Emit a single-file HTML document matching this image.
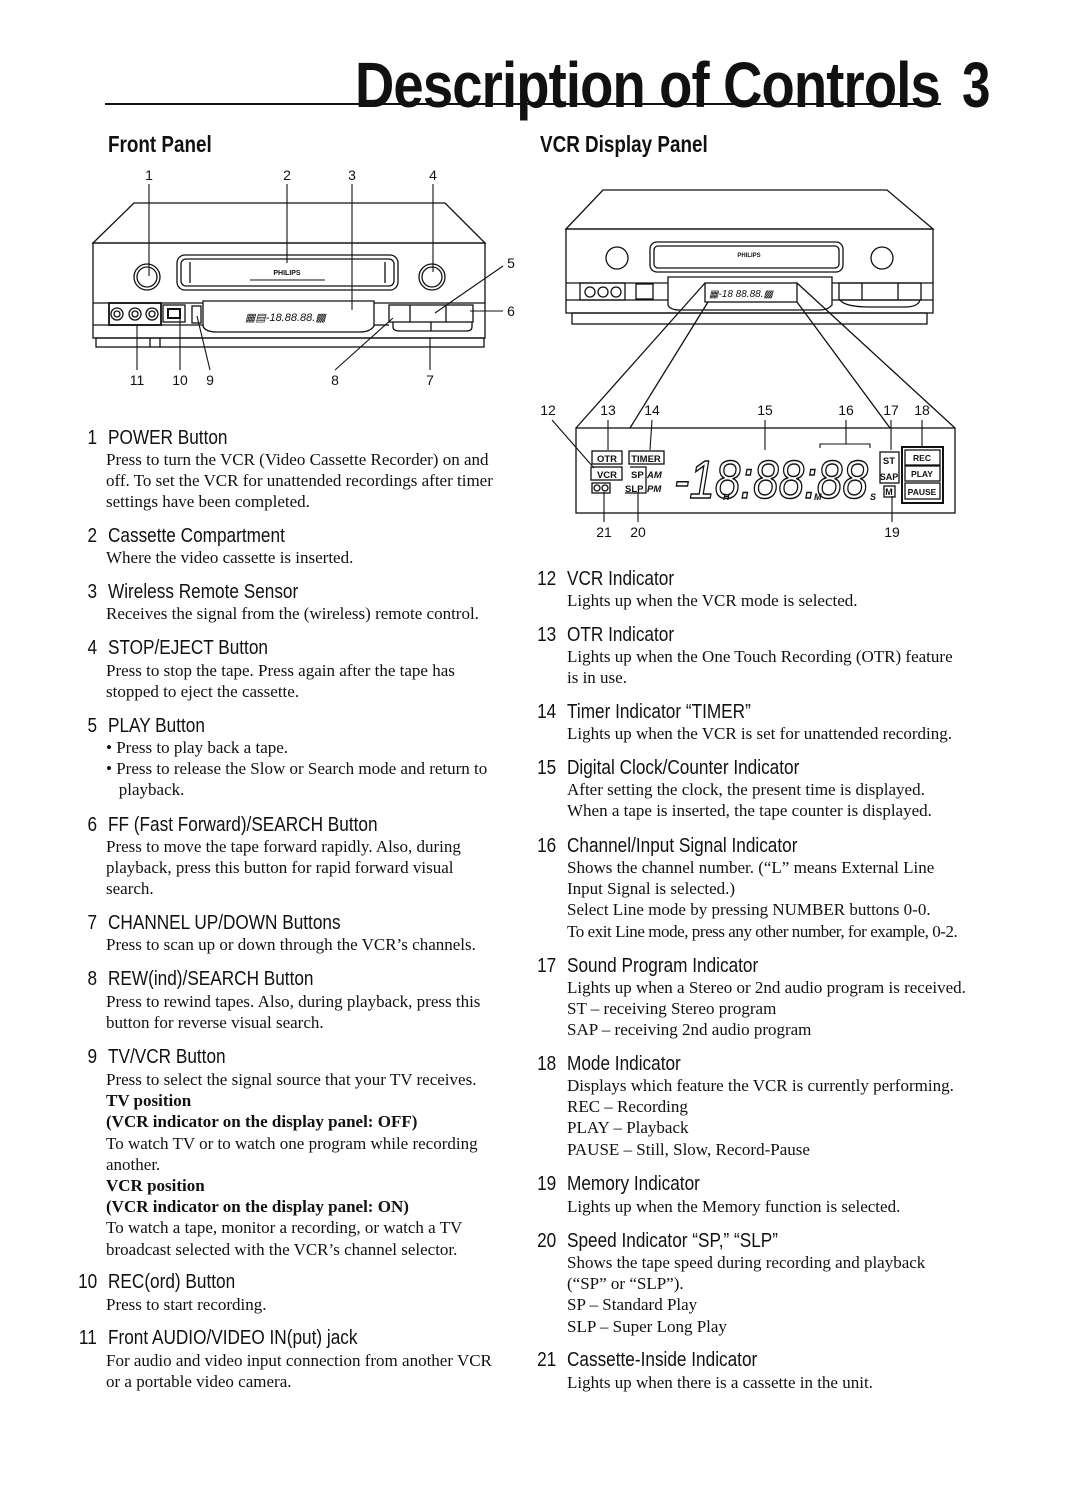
<!DOCTYPE html>
<html><head><meta charset="utf-8">
<style>
body{margin:0;background:#fff;}
#pg{position:relative;width:1080px;height:1509px;overflow:hidden;background:#fff;color:#111;}
.h{position:absolute;font-family:"Liberation Sans",sans-serif;font-size:20px;white-space:nowrap;transform:scaleX(0.86);transform-origin:0 0;line-height:22px;}
.n{position:absolute;font-family:"Liberation Sans",sans-serif;font-size:20px;white-space:nowrap;transform:scaleX(0.86);transform-origin:100% 0;text-align:right;line-height:22px;}
.b{position:absolute;font-family:"Liberation Serif",serif;font-size:17px;line-height:21.2px;white-space:nowrap;}
.b b{font-weight:bold;}
svg text{font-family:"Liberation Sans",sans-serif;}
</style></head><body><div id="pg">

<div style="position:absolute;left:355px;top:50px;font-family:'Liberation Sans',sans-serif;font-weight:bold;font-size:64px;line-height:70px;white-space:nowrap;transform:scaleX(0.85);transform-origin:0 0;letter-spacing:-1px">Description of Controls</div>
<div style="position:absolute;left:962px;top:50px;font-family:'Liberation Sans',sans-serif;font-weight:bold;font-size:64px;line-height:70px;transform:scaleX(0.8);transform-origin:0 0">3</div>
<div style="position:absolute;left:105px;top:103px;width:836px;height:2px;background:#111"></div>

<div style="position:absolute;left:108px;top:131px;font-family:'Liberation Sans',sans-serif;font-weight:bold;font-size:23px;white-space:nowrap;transform:scaleX(0.82);transform-origin:0 0">Front Panel</div>
<div style="position:absolute;left:540px;top:131px;font-family:'Liberation Sans',sans-serif;font-weight:bold;font-size:23px;white-space:nowrap;transform:scaleX(0.82);transform-origin:0 0">VCR Display Panel</div>

<svg style="position:absolute;left:0;top:0" width="1080" height="560" viewBox="0 0 1080 560" fill="none" stroke="#111" stroke-width="1.3">
<path d="M93 243 L134 203 L445 203 L485 243 Z"/>
<rect x="93" y="243" width="392" height="95"/>
<rect x="96" y="338" width="388" height="9"/>
<circle cx="147" cy="277" r="13"/><circle cx="147" cy="277" r="10"/>
<rect x="177" y="255" width="221" height="35" rx="8"/>
<rect x="181" y="259" width="213" height="27" rx="5"/>
<line x1="190" y1="262" x2="190" y2="283"/><line x1="385" y1="262" x2="385" y2="283"/>
<text x="287" y="275" font-size="7" font-weight="bold" fill="#111" stroke="none" text-anchor="middle">PHILIPS</text>
<line x1="250" y1="280" x2="325" y2="280" stroke-width="1"/>
<circle cx="432" cy="277" r="13"/><circle cx="432" cy="277" r="10"/>
<line x1="93" y1="303" x2="203" y2="303"/><line x1="374" y1="303" x2="485" y2="303"/>
<line x1="93" y1="325" x2="203" y2="325"/><line x1="374" y1="325" x2="389" y2="325"/>
<rect x="109" y="303" width="52" height="22" stroke-width="1.8"/>
<circle cx="117" cy="314" r="6"/><circle cx="135" cy="314" r="6"/><circle cx="152" cy="314" r="6"/>
<circle cx="117" cy="314" r="3"/><circle cx="135" cy="314" r="3"/><circle cx="152" cy="314" r="3"/>
<rect x="163" y="305" width="22" height="17"/><rect x="168" y="309" width="12" height="9" stroke-width="2"/>
<rect x="192" y="306" width="9" height="17"/>
<path d="M203 301 L374 301 L374 326 Q370 332 360 332 L217 332 Q205 332 203 326 Z"/>
<text x="245" y="321" font-size="11" font-style="italic" fill="#111" stroke="none">▦▤-18.88.88.▩</text>
<rect x="389" y="305" width="84" height="17"/>
<line x1="410" y1="305" x2="410" y2="322"/><line x1="446" y1="305" x2="446" y2="322"/>
<path d="M393 322 L393 327 Q393 331 400 331 L466 331 Q472 331 472 327 L472 322"/>
<line x1="431" y1="322" x2="431" y2="331"/>
<line x1="150" y1="338" x2="150" y2="347"/><line x1="160" y1="338" x2="160" y2="347"/>
<g fill="#111" stroke="none" font-size="14">
<text x="149" y="180" text-anchor="middle">1</text><text x="287" y="180" text-anchor="middle">2</text>
<text x="352" y="180" text-anchor="middle">3</text><text x="433" y="180" text-anchor="middle">4</text>
<text x="511" y="268" text-anchor="middle">5</text><text x="511" y="316" text-anchor="middle">6</text>
<text x="430" y="385" text-anchor="middle">7</text><text x="335" y="385" text-anchor="middle">8</text>
<text x="210" y="385" text-anchor="middle">9</text><text x="180" y="385" text-anchor="middle">10</text>
<text x="137" y="385" text-anchor="middle">11</text>
</g>
<g stroke-width="1.1">
<line x1="149" y1="184" x2="149" y2="276"/><line x1="287" y1="184" x2="287" y2="263"/>
<line x1="352" y1="184" x2="352" y2="310"/><line x1="433" y1="184" x2="433" y2="272"/>
<line x1="503" y1="266" x2="435" y2="313"/><line x1="503" y1="311" x2="470" y2="311"/>
<line x1="430" y1="370" x2="430" y2="338"/><line x1="335" y1="370" x2="393" y2="318"/>
<line x1="210" y1="370" x2="197" y2="316"/><line x1="180" y1="370" x2="180" y2="318"/>
<line x1="137" y1="370" x2="137" y2="325"/>
</g>

<path d="M566 229 L603 190 L887 190 L933 229 Z"/>
<rect x="566" y="229" width="367" height="84"/>
<rect x="572" y="313" width="355" height="11"/>
<circle cx="617" cy="258" r="11"/>
<rect x="650" y="242" width="193" height="30" rx="7"/>
<rect x="654" y="246" width="185" height="22" rx="4"/>
<text x="749" y="257" font-size="6" font-weight="bold" fill="#111" stroke="none" text-anchor="middle">PHILIPS</text>
<circle cx="882" cy="258" r="11"/>
<line x1="566" y1="283" x2="668" y2="283"/><line x1="832" y1="283" x2="933" y2="283"/>
<line x1="566" y1="300" x2="668" y2="300"/><line x1="832" y1="300" x2="933" y2="300"/>
<rect x="580" y="283" width="45" height="17"/>
<circle cx="590" cy="292" r="5"/><circle cx="603" cy="292" r="5"/><circle cx="616" cy="292" r="5"/>
<rect x="636" y="284" width="17" height="15"/>
<path d="M668 277 L832 277 L832 305 Q828 310 820 310 L680 310 Q670 310 668 305 Z"/>
<rect x="705" y="283" width="92" height="19"/>
<text x="709" y="297" font-size="10" font-style="italic" fill="#111" stroke="none">▦-18 88.88.▩</text>
<rect x="839" y="283" width="82" height="17"/><line x1="862" y1="283" x2="862" y2="300"/><line x1="898" y1="283" x2="898" y2="300"/>
<path d="M840 300 Q845 307 870 307 L905 307 Q918 307 920 300"/>
<line x1="705" y1="283" x2="576" y2="428"/><line x1="708" y1="302" x2="630" y2="428"/>
<line x1="797" y1="283" x2="955" y2="428"/><line x1="797" y1="302" x2="890" y2="428"/>
<rect x="576" y="428" width="379" height="85"/>
<g fill="#111" stroke="none" font-size="14">
<text x="548" y="415" text-anchor="middle">12</text><text x="608" y="415" text-anchor="middle">13</text>
<text x="652" y="415" text-anchor="middle">14</text><text x="765" y="415" text-anchor="middle">15</text>
<text x="846" y="415" text-anchor="middle">16</text><text x="891" y="415" text-anchor="middle">17</text>
<text x="922" y="415" text-anchor="middle">18</text>
<text x="604" y="537" text-anchor="middle">21</text><text x="638" y="537" text-anchor="middle">20</text>
<text x="892" y="537" text-anchor="middle">19</text>
</g>
<g stroke-width="1.1">
<line x1="552" y1="420" x2="594" y2="468"/><line x1="608" y1="420" x2="608" y2="450"/>
<line x1="652" y1="420" x2="650" y2="450"/><line x1="765" y1="420" x2="765" y2="450"/>
<path d="M820 448 L820 444 L870 444 L870 448"/><line x1="846" y1="420" x2="846" y2="444"/>
<line x1="891" y1="420" x2="891" y2="450"/><line x1="922" y1="420" x2="922" y2="446"/>
<line x1="604" y1="522" x2="604" y2="492"/><line x1="638" y1="522" x2="638" y2="492"/>
<line x1="892" y1="522" x2="892" y2="496"/>
</g>
<g stroke-width="1.3">
<rect x="592" y="451" width="30" height="13"/><rect x="629" y="451" width="35" height="13"/>
<rect x="591" y="467" width="31" height="13"/>
<rect x="592" y="483" width="18" height="10"/><circle cx="597" cy="488" r="3"/><circle cx="605" cy="488" r="3"/>
<path d="M630 467 L646 467 L646 493 L625 493"/>
<rect x="880" y="452" width="19" height="31"/><rect x="884" y="486" width="11" height="11"/>
<rect x="902" y="447" width="41" height="56" stroke-width="2"/>
<rect x="905" y="450" width="35" height="15"/><rect x="905" y="466" width="35" height="15"/><rect x="905" y="483" width="35" height="16"/>
</g>
<g fill="#111" stroke="none" font-weight="bold">
<text x="607" y="462" font-size="9.5" text-anchor="middle">OTR</text>
<text x="646" y="462" font-size="9.5" text-anchor="middle">TIMER</text>
<text x="607" y="478" font-size="9.5" text-anchor="middle">VCR</text>
<text x="631" y="478" font-size="9.5">SP</text><text x="647" y="478" font-size="9.5" font-style="italic">AM</text>
<text x="625" y="492" font-size="9.5">SLP</text><text x="647" y="492" font-size="9.5" font-style="italic">PM</text>
<text x="889" y="464" font-size="9.5" text-anchor="middle">ST</text>
<text x="889" y="480" font-size="9" text-anchor="middle">SAP</text>
<text x="889" y="495" font-size="9" text-anchor="middle">M</text>
<text x="922" y="461" font-size="8.5" text-anchor="middle">REC</text>
<text x="922" y="477" font-size="8.5" text-anchor="middle">PLAY</text>
<text x="922" y="495" font-size="8.5" text-anchor="middle">PAUSE</text>
</g>
<text x="674" y="498" font-size="54" font-style="italic" stroke-width="1.5" stroke="#111" fill="#fff" textLength="194" lengthAdjust="spacingAndGlyphs">-18:88:88</text>
<g fill="#111" stroke="none" font-size="9" font-style="italic" font-weight="bold">
<text x="723" y="500">H</text><text x="814" y="500">M</text><text x="870" y="500">S</text>
</g>
</svg>

<div class="n" style="right:983px;top:427px">1</div><div class="h" style="left:108px;top:427px">POWER Button</div>
<div class="b" style="left:106px;top:449px">Press to turn the VCR (Video Cassette Recorder) on and<br>off. To set the VCR for unattended recordings after timer<br>settings have been completed.</div>

<div class="n" style="right:983px;top:525px">2</div><div class="h" style="left:108px;top:525px">Cassette Compartment</div>
<div class="b" style="left:106px;top:547px">Where the video cassette is inserted.</div>

<div class="n" style="right:983px;top:581px">3</div><div class="h" style="left:108px;top:581px">Wireless Remote Sensor</div>
<div class="b" style="left:106px;top:603px">Receives the signal from the (wireless) remote control.</div>

<div class="n" style="right:983px;top:637px">4</div><div class="h" style="left:108px;top:637px">STOP/EJECT Button</div>
<div class="b" style="left:106px;top:660px">Press to stop the tape. Press again after the tape has<br>stopped to eject the cassette.</div>

<div class="n" style="right:983px;top:715px">5</div><div class="h" style="left:108px;top:715px">PLAY Button</div>
<div class="b" style="left:106px;top:737px">• Press to play back a tape.<br>• Press to release the Slow or Search mode and return to<br>&nbsp;&nbsp;&nbsp;playback.</div>

<div class="n" style="right:983px;top:814px">6</div><div class="h" style="left:108px;top:814px">FF (Fast Forward)/SEARCH Button</div>
<div class="b" style="left:106px;top:836px">Press to move the tape forward rapidly. Also, during<br>playback, press this button for rapid forward visual<br>search.</div>

<div class="n" style="right:983px;top:912px">7</div><div class="h" style="left:108px;top:912px">CHANNEL UP/DOWN Buttons</div>
<div class="b" style="left:106px;top:934px">Press to scan up or down through the VCR’s channels.</div>

<div class="n" style="right:983px;top:968px">8</div><div class="h" style="left:108px;top:968px">REW(ind)/SEARCH Button</div>
<div class="b" style="left:106px;top:991px">Press to rewind tapes. Also, during playback, press this<br>button for reverse visual search.</div>

<div class="n" style="right:983px;top:1046px">9</div><div class="h" style="left:108px;top:1046px">TV/VCR Button</div>
<div class="b" style="left:106px;top:1069px">Press to select the signal source that your TV receives.<br><b>TV position</b><br><b>(VCR indicator on the display panel: OFF)</b><br>To watch TV or to watch one program while recording<br>another.<br><b>VCR position</b><br><b>(VCR indicator on the display panel: ON)</b><br>To watch a tape, monitor a recording, or watch a TV<br>broadcast selected with the VCR’s channel selector.</div>

<div class="n" style="right:983px;top:1271px">10</div><div class="h" style="left:108px;top:1271px">REC(ord) Button</div>
<div class="b" style="left:106px;top:1294px">Press to start recording.</div>

<div class="n" style="right:983px;top:1327px">11</div><div class="h" style="left:108px;top:1327px">Front AUDIO/VIDEO IN(put) jack</div>
<div class="b" style="left:106px;top:1350px">For audio and video input connection from another VCR<br>or a portable video camera.</div>

<div class="n" style="right:524px;top:568px">12</div><div class="h" style="left:567px;top:568px">VCR Indicator</div>
<div class="b" style="left:567px;top:590px">Lights up when the VCR mode is selected.</div>

<div class="n" style="right:524px;top:624px">13</div><div class="h" style="left:567px;top:624px">OTR Indicator</div>
<div class="b" style="left:567px;top:646px">Lights up when the One Touch Recording (OTR) feature<br>is in use.</div>

<div class="n" style="right:524px;top:701px">14</div><div class="h" style="left:567px;top:701px">Timer Indicator “TIMER”</div>
<div class="b" style="left:567px;top:723px">Lights up when the VCR is set for unattended recording.</div>

<div class="n" style="right:524px;top:757px">15</div><div class="h" style="left:567px;top:757px">Digital Clock/Counter Indicator</div>
<div class="b" style="left:567px;top:779px">After setting the clock, the present time is displayed.<br>When a tape is inserted, the tape counter is displayed.</div>

<div class="n" style="right:524px;top:835px">16</div><div class="h" style="left:567px;top:835px">Channel/Input Signal Indicator</div>
<div class="b" style="left:567px;top:857px">Shows the channel number. (“L” means External Line<br>Input Signal is selected.)<br>Select Line mode by pressing NUMBER buttons 0-0.<br><span style="letter-spacing:-0.45px">To exit Line mode, press any other number, for example, 0-2.</span></div>

<div class="n" style="right:524px;top:955px">17</div><div class="h" style="left:567px;top:955px">Sound Program Indicator</div>
<div class="b" style="left:567px;top:977px">Lights up when a Stereo or 2nd audio program is received.<br>ST – receiving Stereo program<br>SAP – receiving 2nd audio program</div>

<div class="n" style="right:524px;top:1053px">18</div><div class="h" style="left:567px;top:1053px">Mode Indicator</div>
<div class="b" style="left:567px;top:1075px">Displays which feature the VCR is currently performing.<br>REC – Recording<br>PLAY – Playback<br>PAUSE – Still, Slow, Record-Pause</div>

<div class="n" style="right:524px;top:1173px">19</div><div class="h" style="left:567px;top:1173px">Memory Indicator</div>
<div class="b" style="left:567px;top:1196px">Lights up when the Memory function is selected.</div>

<div class="n" style="right:524px;top:1230px">20</div><div class="h" style="left:567px;top:1230px">Speed Indicator “SP,” “SLP”</div>
<div class="b" style="left:567px;top:1252px">Shows the tape speed during recording and playback<br>(“SP” or “SLP”).<br>SP – Standard Play<br>SLP – Super Long Play</div>

<div class="n" style="right:524px;top:1349px">21</div><div class="h" style="left:567px;top:1349px">Cassette-Inside Indicator</div>
<div class="b" style="left:567px;top:1372px">Lights up when there is a cassette in the unit.</div>

</div></body></html>
